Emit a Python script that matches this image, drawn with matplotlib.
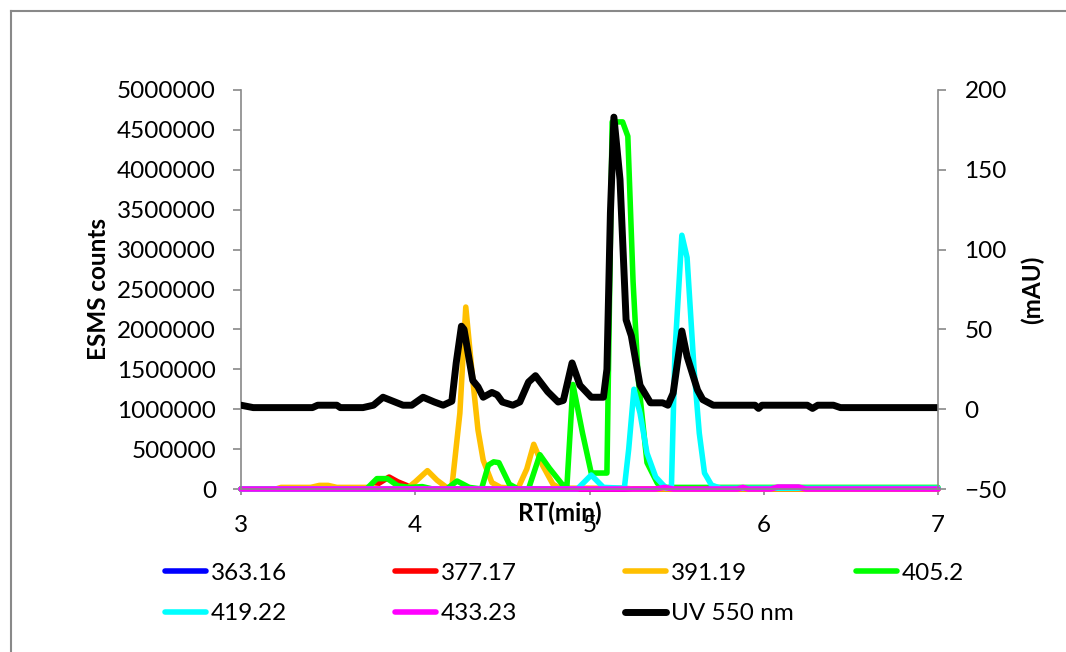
"""
ESMS extracted ion chromatograms with UV 550 nm trace on a secondary axis
"""

import matplotlib
matplotlib.use('Agg')
import matplotlib.pyplot as plt
from matplotlib.lines import Line2D
from matplotlib.ticker import FuncFormatter

plt.rcParams['font.family'] = ['Lato', 'DejaVu Sans']

# ESMS traces (RT in min, counts)
rt_363 = [3.0, 7.0]
ms_363 = [0, 0]

rt_377 = [3.0, 3.72, 3.79, 3.85, 3.90, 3.95, 4.00, 7.0]
ms_377 = [0, 0, 70000, 150000, 90000, 45000, 0, 0]

rt_391 = [3.0, 3.20, 3.23, 3.40, 3.45, 3.50, 3.55, 3.75, 3.80, 3.95, 4.00, 4.07, 4.125,
          4.18, 4.21, 4.256, 4.29, 4.33, 4.36, 4.39, 4.44, 4.49, 4.59, 4.64, 4.68, 4.73,
          4.79, 4.83, 5.20, 5.25, 7.0]
ms_391 = [0, 0, 20000, 20000, 45000, 45000, 20000, 20000, 0, 0, 90000, 230000, 110000,
          20000, 20000, 950000, 2280000, 1370000, 740000, 360000, 80000, 20000, 10000,
          250000, 560000, 300000, 60000, 10000, 10000, 0, 0]

rt_405 = [3.0, 3.72, 3.78, 3.84, 3.90, 3.97, 4.04, 4.10, 4.18, 4.24, 4.31, 4.38, 4.42,
          4.45, 4.48, 4.54, 4.59, 4.65, 4.715, 4.77, 4.85, 4.87, 4.905, 4.96, 5.01, 5.10,
          5.13, 5.19, 5.22, 5.25, 5.28, 5.33, 5.39, 5.44, 5.50, 7.0]
ms_405 = [0, 0, 130000, 130000, 40000, 20000, 30000, 0, 0, 100000, 20000, 0, 300000,
          340000, 330000, 60000, 0, 0, 430000, 260000, 40000, 20000, 1310000, 700000,
          200000, 200000, 4600000, 4600000, 4420000, 2600000, 1370000, 330000, 70000,
          20000, 20000, 20000]

rt_419 = [3.0, 4.93, 5.01, 5.08, 5.20, 5.225, 5.255, 5.29, 5.33, 5.38, 5.44, 5.47, 5.49,
          5.53, 5.56, 5.60, 5.63, 5.66, 5.70, 5.75, 7.0]
ms_419 = [0, 0, 175000, 20000, 10000, 500000, 1250000, 950000, 450000, 150000, 10000,
          10000, 1700000, 3180000, 2900000, 1500000, 700000, 200000, 50000, 10000, 10000]

rt_433 = [3.0, 5.38, 5.43, 5.48, 5.85, 5.88, 5.91, 6.04, 6.08, 6.20, 6.24, 7.0]
ms_433 = [0, 0, 20000, 0, 0, 20000, 0, 0, 25000, 25000, 0, 0]

# UV 550 nm trace (mAU)
uv_rt = [3.00, 3.07, 3.41, 3.44, 3.55, 3.57, 3.70, 3.76, 3.815, 3.93, 3.98, 4.045, 4.11,
         4.16, 4.21, 4.235, 4.265, 4.28, 4.33, 4.36, 4.39, 4.44, 4.47, 4.50, 4.56, 4.60,
         4.65, 4.69, 4.76, 4.82, 4.85, 4.90, 4.945, 5.01, 5.08, 5.10, 5.12, 5.14, 5.175,
         5.21, 5.24, 5.29, 5.35, 5.42, 5.45, 5.48, 5.53, 5.56, 5.62, 5.65, 5.71, 5.95,
         5.97, 5.99, 6.25, 6.28, 6.31, 6.40, 6.44, 7.00]
uv_mau = [2.5, 1, 1, 2.5, 2.5, 1, 1, 2.5, 7.5, 2.5, 2.5, 7.5, 4.5,
          2.5, 5, 29, 52, 50, 18, 14, 7.5, 10.5, 9, 4.5, 2.5, 4.5,
          17, 21, 11, 4.5, 5.5, 29, 15, 7.5, 7.5, 25, 123, 183, 144,
          56, 46, 15, 4, 4, 2.5, 10, 49, 33, 12, 6, 2.5, 2.5,
          0.5, 2.5, 2.5, 0.5, 2.5, 2.5, 1, 1]

series = [
    ('363.16', rt_363, ms_363, '#0000FF'),
    ('377.17', rt_377, ms_377, '#FF0000'),
    ('391.19', rt_391, ms_391, '#FFC000'),
    ('405.2', rt_405, ms_405, '#00FF00'),
    ('419.22', rt_419, ms_419, '#00FFFF'),
    ('433.23', rt_433, ms_433, '#FF00FF'),
]

axis_grey = '#898989'
fs = 17.5

fig = plt.figure(figsize=(10.66, 6.52), dpi=100)
ax = fig.add_axes([241 / 1066, 1 - 489 / 652, 697 / 1066, 399 / 652])
ax2 = ax.twinx()

handles = []
for name, rt, vals, col in series:
    ln, = ax.plot(rt, vals, color=col, linewidth=4, label=name,
                  solid_joinstyle='round', solid_capstyle='round', clip_on=False)
    handles.append(ln)

uv_line, = ax2.plot(uv_rt, uv_mau, color='black', linewidth=5, label='UV 550 nm',
                    solid_joinstyle='round', solid_capstyle='round')
handles.append(uv_line)

# primary axis
ax.set_xlim(3, 7)
ax.set_ylim(0, 5000000)
ax.set_xticks([3, 4, 5, 6, 7])
ax.set_yticks(range(0, 5000001, 500000))
ax.yaxis.set_major_formatter(FuncFormatter(lambda v, p: f'{int(v)}'))
ax.tick_params(axis='y', direction='out', length=6, width=1.2, color=axis_grey,
               labelsize=fs, pad=12)
ax.tick_params(axis='x', direction='out', length=4, width=1.2, color=axis_grey,
               labelsize=fs, pad=15)
for s in ['top', 'right']:
    ax.spines[s].set_visible(False)
for s in ['left', 'bottom']:
    ax.spines[s].set_color(axis_grey)
    ax.spines[s].set_linewidth(1.2)

ax.set_ylabel('ESMS counts', fontsize=fs, fontweight='bold')
ax.yaxis.set_label_coords((110 - 241) / 697, 0.5)
ax.set_xlabel('RT(min)', fontsize=fs, fontweight='bold')
ax.xaxis.set_label_coords((560 - 241) / 697, -24 / 399)
ax.xaxis.label.set_va('center')

# secondary axis
ax2.set_ylim(-50, 200)
ax2.set_yticks(range(-50, 201, 50))
ax2.tick_params(axis='y', direction='out', length=6, width=1.2, color=axis_grey,
                labelsize=fs, pad=13)
for s in ['top', 'left', 'bottom']:
    ax2.spines[s].set_visible(False)
ax2.spines['right'].set_color(axis_grey)
ax2.spines['right'].set_linewidth(1.2)
ax2.set_ylabel('(mAU)', fontsize=fs, fontweight='bold', rotation=90)
ax2.yaxis.set_label_coords((1021 - 241) / 697, 0.5)

# legend: four columns, two rows
col_x = [165, 395, 625, 856]
row_mid = (573 + 614) / 2
columns = [[0, 4], [1, 5], [2, 6], [3]]
for cx, idx in zip(col_x, columns):
    hs = [handles[i] for i in idx]
    cy = row_mid if len(idx) == 2 else 573
    fig.legend(hs, [h.get_label() for h in hs], loc='center left',
               bbox_to_anchor=(cx / 1066, 1 - cy / 652), frameon=False,
               fontsize=fs, handlelength=1.7, handletextpad=0.2,
               labelspacing=0.8, borderpad=0, borderaxespad=0)

# chart border (top and left edges visible in the picture)
fig.add_artist(Line2D([11 / 1066, 1.0], [1 - 11 / 652, 1 - 11 / 652],
                      transform=fig.transFigure, color=axis_grey, linewidth=1.5))
fig.add_artist(Line2D([11 / 1066, 11 / 1066], [0.0, 1 - 11 / 652],
                      transform=fig.transFigure, color=axis_grey, linewidth=1.5))

fig.savefig('out.png', dpi=100, facecolor='white')
